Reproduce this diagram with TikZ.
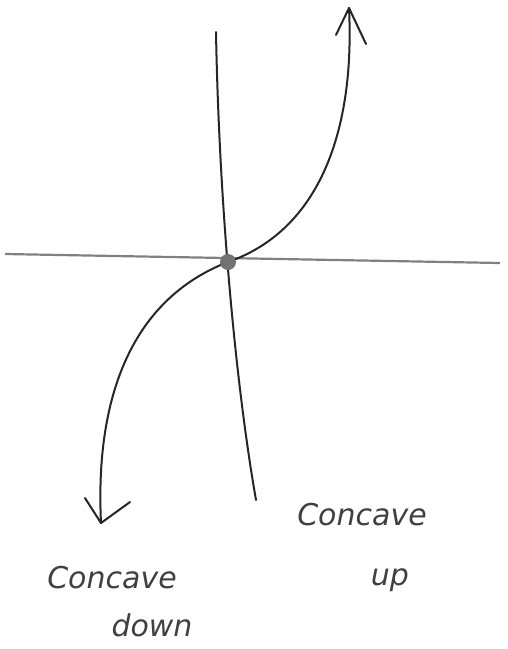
\documentclass[tikz,border=0pt]{standalone}
\usepackage{fontspec}
\setmainfont{DejaVu Sans}
\begin{document}
\begin{tikzpicture}[x=1pt,y=-1pt,
  axis/.style={line width=2pt,color=black!85,line cap=round},
  haxis/.style={line width=2.2pt,color=black!50},
  curvestyle/.style={line width=2pt,color=black!85,line cap=round,line join=round},
  lbl/.style={font=\fontsize{30}{32}\selectfont\itshape,text=black!75,inner sep=0pt}]
\useasboundingbox (0,0) rectangle (507,649);
\coordinate (vtop) at (216,32);
\coordinate (vbot) at (256,500);
\coordinate (hleft) at (5,254);
\coordinate (hright) at (500,263);
\coordinate (o) at (228,262);
\coordinate (lowtip) at (101,523);
\coordinate (uptip) at (349,8);
\draw[haxis] (hleft) -- (hright);
\draw[axis] (vtop) .. controls (219,200) and (235,380) .. (vbot);
\draw[curvestyle] (lowtip) .. controls (95,400) and (130,300) .. (o)
  .. controls (320,230) and (355,130) .. (uptip);
\draw[curvestyle] (85,498) -- (lowtip) -- (130,502);
\draw[curvestyle] (336,35) -- (uptip) -- (366,44);
\fill[black!55] (o) circle (8);
\node[lbl] (cd1) at (112,578) {Concave};
\node[lbl] (cd2) at (152,625) {down};
\node[lbl] (cu1) at (362,515) {Concave};
\node[lbl] (cu2) at (390,580) {up};
\end{tikzpicture}
\end{document}
